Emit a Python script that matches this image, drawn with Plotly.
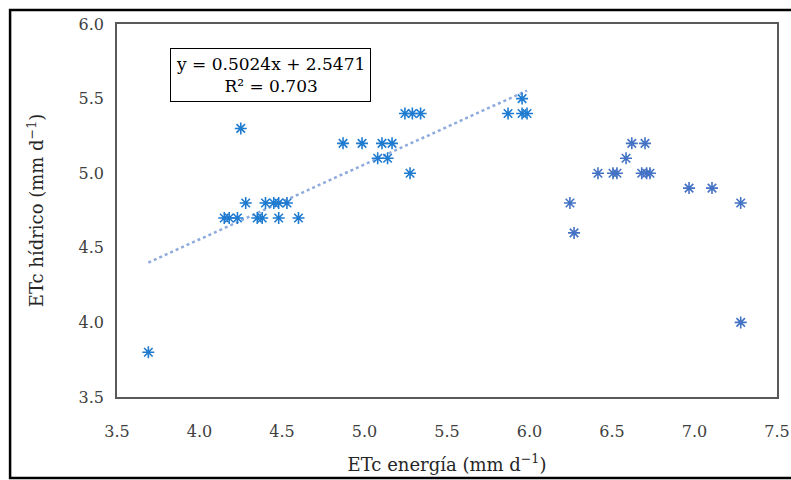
import plotly.graph_objects as go

# Data (ETc energía, ETc hídrico)
fit_x = [3.69, 4.25, 4.28, 4.40, 4.45, 4.48, 4.53,
         4.15, 4.18, 4.23, 4.35, 4.38, 4.48, 4.60,
         5.245, 5.29, 5.34, 4.87, 4.985, 5.106, 5.167,
         5.08, 5.14, 5.276, 5.955, 5.87, 5.955, 5.985]
fit_y = [3.8, 5.3, 4.8, 4.8, 4.8, 4.8, 4.8,
         4.7, 4.7, 4.7, 4.7, 4.7, 4.7, 4.7,
         5.4, 5.4, 5.4, 5.2, 5.2, 5.2, 5.2,
         5.1, 5.1, 5.0, 5.5, 5.4, 5.4, 5.4]
other_x = [6.62, 6.70, 6.585, 6.415, 6.506, 6.53, 6.68, 6.71, 6.73,
           6.967, 7.106, 6.245, 7.28, 6.27, 7.28]
other_y = [5.2, 5.2, 5.1, 5.0, 5.0, 5.0, 5.0, 5.0, 5.0,
           4.9, 4.9, 4.8, 4.8, 4.6, 4.0]

slope = 0.5024
intercept = 2.5471
r2 = 0.703

x_ticks = [3.5, 4.0, 4.5, 5.0, 5.5, 6.0, 6.5, 7.0, 7.5]
y_ticks = [3.5, 4.0, 4.5, 5.0, 5.5, 6.0]

line_x = [min(fit_x), max(fit_x)]
line_y = [slope * v + intercept for v in line_x]

serif = "DejaVu Serif, serif"

fig = go.Figure()
fig.add_trace(go.Scatter(x=line_x, y=line_y, mode="lines",
                         line=dict(color="#8FAADC", width=2.5, dash="dot"),
                         hoverinfo="skip"))
fig.add_trace(go.Scatter(x=fit_x, y=fit_y, mode="markers",
                         marker=dict(symbol="asterisk-open", size=10, color="#1F7BD0",
                                     line=dict(color="#1F7BD0", width=1.6))))
fig.add_trace(go.Scatter(x=other_x, y=other_y, mode="markers",
                         marker=dict(symbol="asterisk-open", size=10, color="#4472C4",
                                     line=dict(color="#4472C4", width=1.6))))

axis_common = dict(showgrid=False, zeroline=False, showline=True, mirror=True,
                   linecolor="#595959", linewidth=1.5, ticks="", automargin=False,
                   tickfont=dict(family=serif, size=16, color="#404040"),
                   tickformat=".1f")

fig.update_xaxes(range=[3.5, 7.5], tickvals=x_ticks, ticklabelstandoff=19,
                 title=dict(text="ETc energía (mm d<sup>−1</sup>)", standoff=18,
                            font=dict(family=serif, size=18, color="#262626")),
                 **axis_common)
fig.update_yaxes(range=[3.5, 6.0], tickvals=y_ticks, ticklabelstandoff=8,
                 title=dict(text="ETc hídrico (mm d<sup>−1</sup>)", standoff=30,
                            font=dict(family=serif, size=18, color="#262626")),
                 **axis_common)

fig.add_annotation(xref="paper", yref="paper", x=0.233, y=0.863,
                   xanchor="center", yanchor="middle",
                   text=f"y = {slope}x + {intercept}<br>R² = {r2}",
                   showarrow=False, align="center",
                   font=dict(family=serif, size=17, color="#000000"),
                   bordercolor="#000000", borderwidth=1, borderpad=5,
                   bgcolor="white")

# Outer frame of the figure
fig.add_shape(type="rect", xref="paper", yref="paper",
              x0=-0.162, x1=1.05, y0=-0.217, y1=1.0375,
              line=dict(color="#000000", width=2.5), layer="below")

fig.update_layout(width=791, height=480, showlegend=False,
                  margin=dict(l=117, r=14, t=24, b=83),
                  plot_bgcolor="white", paper_bgcolor="white")

fig.write_html("out.html")
